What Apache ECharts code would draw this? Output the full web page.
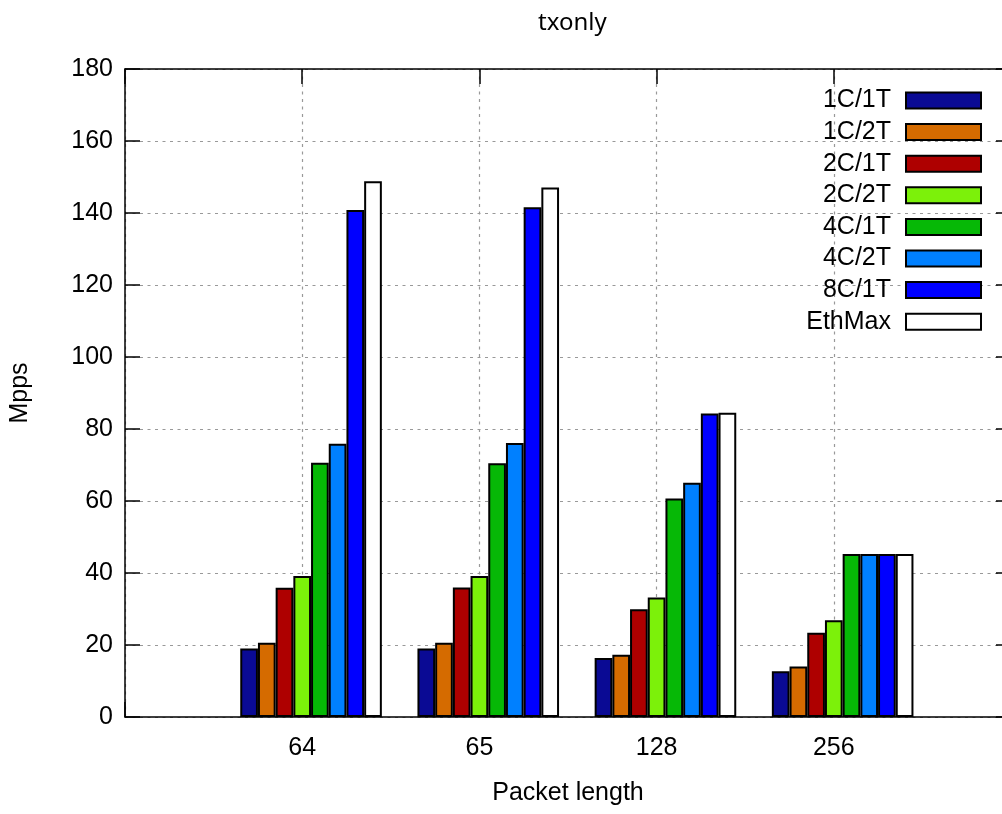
<!DOCTYPE html>
<html>
<head>
<meta charset="utf-8">
<script src="https://cdn.jsdelivr.net/npm/echarts@6/dist/echarts.min.js"></script>
<style>
  html, body { margin: 0; padding: 0; background: #fff; }
  #chart { width: 1002px; height: 814px; }
</style>
</head>
<body>
<div id="chart"></div>
<script>
// packet lengths (x categories)
const categories = ['64', '65', '128', '256']
const yTicks = [0, 20, 40, 60, 80, 100, 120, 140, 160, 180]

// Mpps per configuration
const c1t1 = [19.0, 19.0, 16.4, 12.7]
const c1t2 = [20.6, 20.6, 17.3, 14.0]
const c2t1 = [35.9, 36.0, 29.9, 23.4]
const c2t2 = [39.2, 39.2, 33.2, 26.9]
const c4t1 = [70.6, 70.5, 60.7, 45.3]
const c4t2 = [75.9, 76.1, 65.1, 45.3]
const c8t1 = [140.8, 141.6, 84.3, 45.3]
const ethMax = [148.8, 147.1, 84.5, 45.3]

const seriesNames = ['1C/1T', '1C/2T', '2C/1T', '2C/2T', '4C/1T', '4C/2T', '8C/1T', 'EthMax']
const seriesValues = [c1t1, c1t2, c2t1, c2t2, c4t1, c4t2, c8t1, ethMax]
const colors = ['#0a0a94', '#d56b00', '#ae0000', '#7cf10a', '#06b806', '#0080ff', '#0000ff', '#ffffff']

const font = 'Liberation Sans'
// plot frame runs past the right edge of the picture (gnuplot xrange -1..4, image cropped)
const grid = { left: 125, top: 69, width: 886, height: 648, outerBoundsMode: 'none' }
const dash = { color: '#999999', width: 1.2, type: [3, 4.5] }
const barW = 17.7

const chart = echarts.init(document.getElementById('chart'))

const xBase = {
  type: 'value',
  min: -1,
  max: 4,
  interval: 1,
  axisLine: { show: true, onZero: false, lineStyle: { color: '#000', width: 1.5 } },
  axisTick: { show: true, inside: true, length: 15, lineStyle: { color: '#000', width: 1.5 } },
  splitLine: { show: false }
}
const yBase = {
  type: 'value',
  min: yTicks[0],
  max: yTicks[yTicks.length - 1],
  interval: yTicks[1] - yTicks[0],
  axisLine: { show: true, onZero: false, lineStyle: { color: '#000', width: 1.5 } },
  axisTick: { show: true, inside: true, length: 15, lineStyle: { color: '#000', width: 1.5 } },
  splitLine: { show: false }
}

// first slot is an empty spacer so the tick sits on the 4th bar, like gnuplot does
const series = [{
  name: 'spacer',
  type: 'bar',
  barWidth: barW,
  barGap: '0%',
  data: categories.map((c, i) => [i, '-'])
}]
seriesNames.forEach((name, k) => {
  series.push({
    name: name,
    type: 'bar',
    barWidth: barW,
    barGap: '0%',
    itemStyle: { color: colors[k], borderColor: '#000', borderWidth: 2 },
    emphasis: { disabled: true },
    data: seriesValues[k].map((v, i) => [i, v])
  })
})

const option = {
  backgroundColor: '#fff',
  animation: false,
  textStyle: { fontFamily: font },
  title: {
    text: 'txonly',
    left: 533,
    top: 6,
    textStyle: { fontFamily: 'Noto Sans', fontSize: 24, fontWeight: 'normal', color: '#000' }
  },
  legend: {
    data: seriesNames,
    orient: 'vertical',
    align: 'right',
    right: 20,
    top: 88,
    padding: 0,
    itemWidth: 75,
    itemHeight: 16,
    itemGap: 6.6,
    icon: 'rect',
    selectedMode: false,
    textStyle: { fontFamily: font, fontSize: 25, color: '#000', padding: [0, 10, 0, 0] }
  },
  grid: grid,
  xAxis: [
    Object.assign({}, xBase, {
      position: 'bottom',
      name: 'Packet length',
      nameLocation: 'middle',
      nameGap: 64,
      nameTextStyle: { fontFamily: font, fontSize: 25, color: '#000' },
      axisLabel: {
        fontFamily: font,
        fontSize: 25,
        color: '#000',
        margin: 19,
        formatter: v => categories[v] !== undefined ? categories[v] : ''
      },
      splitLine: { show: true, lineStyle: dash }
    }),
    Object.assign({}, xBase, { position: 'top', axisLabel: { show: false } })
  ],
  yAxis: [
    Object.assign({}, yBase, {
      position: 'left',
      name: 'Mpps',
      nameLocation: 'middle',
      nameGap: 92,
      nameRotate: 90,
      nameTextStyle: { fontFamily: font, fontSize: 25, color: '#000' },
      axisLabel: { fontFamily: font, fontSize: 25, color: '#000', margin: 12 },
      splitLine: { show: true, lineStyle: dash }
    }),
    Object.assign({}, yBase, { position: 'right', axisLabel: { show: false } })
  ],
  series: series
}

chart.setOption(option)
</script>
</body>
</html>
